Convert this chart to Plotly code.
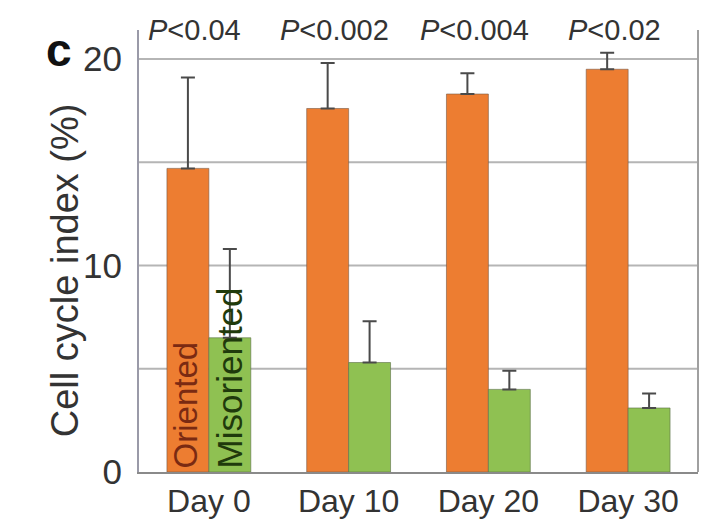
import plotly.graph_objects as go

days = ["Day 0", "Day 10", "Day 20", "Day 30"]
oriented = [14.7, 17.6, 18.3, 19.5]
oriented_err = [4.4, 2.2, 1.0, 0.8]
misoriented = [6.5, 5.3, 4.0, 3.1]
misoriented_err = [4.3, 2.0, 0.9, 0.7]
p_labels = ["P<0.04", "P<0.002", "P<0.004", "P<0.02"]

ORANGE = "#ED7D31"
GREEN = "#8FC152"
FONT = "Liberation Sans, Arial, sans-serif"

fig = go.Figure()
fig.add_trace(go.Bar(
    x=days, y=oriented, name="Oriented",
    marker=dict(color=ORANGE, line=dict(color="rgba(120,90,70,0.6)", width=1)),
    error_y=dict(type="data", symmetric=False, array=oriented_err,
                 arrayminus=[0] * len(days), color="#4a4a4a", thickness=2, width=7),
))
fig.add_trace(go.Bar(
    x=days, y=misoriented, name="Misoriented",
    marker=dict(color=GREEN, line=dict(color="rgba(90,110,70,0.6)", width=1)),
    error_y=dict(type="data", symmetric=False, array=misoriented_err,
                 arrayminus=[0] * len(days), color="#4a4a4a", thickness=2, width=7),
))

# significance labels above each group
for d, p in zip(days, p_labels):
    fig.add_annotation(
        x=d, y=1, xref="x", yref="paper", yanchor="middle", yshift=0, xshift=-14,
        text="<i>P</i>" + p[1:].replace("<", "&lt;"), showarrow=False,
        font=dict(family=FONT, size=29, color="#333333"),
    )

# series names written vertically inside the Day 0 bars
fig.add_annotation(
    x=days[0], y=0, xref="x", yref="y", xanchor="center", yanchor="bottom",
    xshift=-23, yshift=2, text="Oriented", textangle=-90, showarrow=False,
    font=dict(family=FONT, size=33, color="#7a2a12"),
)
fig.add_annotation(
    x=days[0], y=0, xref="x", yref="y", xanchor="center", yanchor="bottom",
    xshift=21, yshift=2, text="Misoriented", textangle=-90, showarrow=False,
    font=dict(family=FONT, size=35, color="#1f3a0c"),
)

# panel letter
fig.add_annotation(
    xref="paper", yref="paper", x=-0.143, y=0.955, xanchor="center", yanchor="middle",
    text="<b>c</b>", showarrow=False,
    font=dict(family=FONT, size=46, color="#111111"),
)

# y-axis title
fig.add_annotation(
    xref="paper", yref="paper", x=-0.132, y=0.457, xanchor="center", yanchor="middle",
    text="Cell cycle index (%)", textangle=-90, showarrow=False,
    font=dict(family=FONT, size=38, color="#333333"),
)

fig.update_layout(
    width=702, height=525,
    margin=dict(l=139, r=4, t=30, b=53),
    barmode="group", bargap=0.4, bargroupgap=0,
    plot_bgcolor="white", paper_bgcolor="white",
    showlegend=False,
    font=dict(family=FONT, color="#333333"),
    xaxis=dict(
        showline=True, linecolor="#8a8a8a", linewidth=2, mirror=False,
        ticks="", tickfont=dict(size=32, color="#333333"),
    ),
    yaxis=dict(
        range=[0, 21.4], tickvals=[0, 10, 20], ticktext=["0", "10", "20"],
        showline=True, linecolor="#9a9aa8", linewidth=2,
        showgrid=False, zeroline=False, ticks="",
        tickfont=dict(size=35, color="#333333"), ticklabelstandoff=8,
    ),
)

# horizontal grid lines at 5, 10, 15, 20 and right frame
for g in [5, 10, 15, 20]:
    fig.add_hline(y=g, line=dict(color="#b5b5b5", width=2), layer="below")
fig.add_shape(type="line", xref="paper", yref="paper", x0=1, x1=1, y0=0, y1=1,
              line=dict(color="#a0a0a0", width=2))

fig.write_html("out.html")
